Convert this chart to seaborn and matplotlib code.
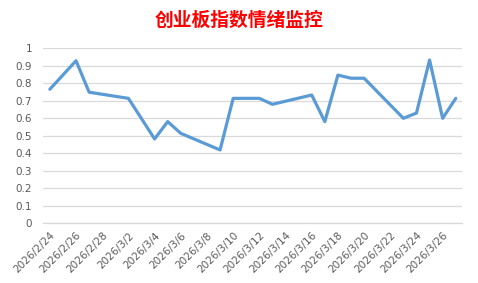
import matplotlib
matplotlib.use("Agg")
import matplotlib.pyplot as plt
import matplotlib.dates as mdates
import seaborn as sns
import pandas as pd
import numpy as np

dates = ["2026-02-24", "2026-02-26", "2026-02-27", "2026-03-02", "2026-03-04",
         "2026-03-05", "2026-03-06", "2026-03-09", "2026-03-10", "2026-03-11",
         "2026-03-12", "2026-03-13", "2026-03-16", "2026-03-17", "2026-03-18",
         "2026-03-19", "2026-03-20", "2026-03-23", "2026-03-24", "2026-03-25",
         "2026-03-26", "2026-03-27"]
values = [0.766, 0.929, 0.749, 0.714, 0.482,
          0.581, 0.514, 0.419, 0.714, 0.714,
          0.714, 0.680, 0.733, 0.581, 0.847,
          0.829, 0.829, 0.600, 0.630, 0.933,
          0.600, 0.714]
title = "创业板指数情绪监控"
yticks = [0, 0.1, 0.2, 0.3, 0.4, 0.5, 0.6, 0.7, 0.8, 0.9, 1]
ytick_labels = ["0", "0.1", "0.2", "0.3", "0.4", "0.5", "0.6", "0.7", "0.8", "0.9", "1"]

df = pd.DataFrame({"date": pd.to_datetime(dates), "value": values})

sns.set_style("white")
plt.rcParams['font.family'] = ['Noto Sans CJK SC', 'DejaVu Sans']

fig = plt.figure(figsize=(4.78, 2.83), dpi=100)
ax = fig.add_axes([43.3 / 478, 1 - 223.3 / 283, 419 / 478, 175 / 283])

sns.lineplot(data=df, x="date", y="value", ax=ax, color="#5B9BD5", linewidth=2.3)

start = pd.Timestamp("2026-02-24") - pd.Timedelta(hours=12)
end = pd.Timestamp("2026-03-27") + pd.Timedelta(hours=12)
ax.set_xlim(mdates.date2num(start), mdates.date2num(end))
ax.set_ylim(0, 1)

label_dates = pd.date_range("2026-02-24", "2026-03-26", freq="2D")
ax.set_xticks(mdates.date2num(label_dates))
ax.set_xticklabels([f"{d.year}/{d.month}/{d.day}" for d in label_dates],
                   rotation=45, ha="right", rotation_mode="anchor",
                   fontsize=7.5, color="#595959", family="DejaVu Sans")
ax.tick_params(axis="x", which="major", length=0, pad=5)
minor = pd.date_range(start, end, freq="2D")
ax.set_xticks(mdates.date2num(minor), minor=True)
ax.tick_params(axis="x", which="minor", length=4, width=0.8, color="#D9D9D9", direction="out")

ax.set_yticks(yticks)
ax.set_yticklabels(ytick_labels, fontsize=7.5, color="#595959", family="DejaVu Sans")
ax.tick_params(axis="y", length=0, pad=8)
ax.yaxis.grid(True, color="#D9D9D9", linewidth=0.9)
ax.set_axisbelow(True)

for s in ["left", "right", "top"]:
    ax.spines[s].set_visible(False)
ax.spines["bottom"].set_color("#D9D9D9")
ax.spines["bottom"].set_linewidth(0.9)

ax.set_xlabel("")
ax.set_ylabel("")

fig.text(0.5, 1 - 20 / 283, title, ha="center", va="center", color="#FF0000",
         fontsize=13.5, fontweight="bold")

fig.savefig("out.png", dpi=100)
